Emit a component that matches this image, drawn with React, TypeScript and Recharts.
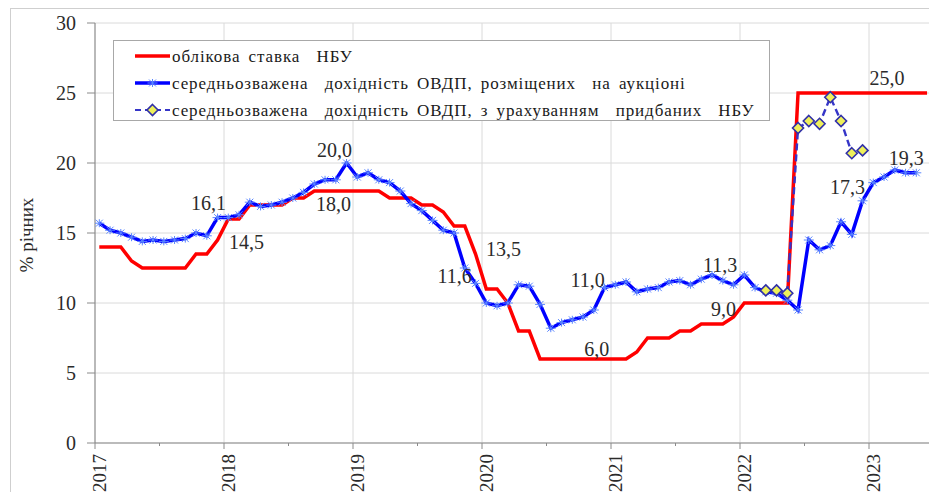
import React from 'react';
import { ComposedChart, Line, XAxis, YAxis, CartesianGrid, LabelList, Legend } from 'recharts';

// ---------- data ----------
const yearLabels = ['2017', '2018', '2019', '2020', '2021', '2022', '2023'];
const yTicks = [0, 5, 10, 15, 20, 25, 30];

// NBU policy rate, monthly from Jan 2017
const policyRate = [
  14, 14, 14, 13, 12.5, 12.5, 12.5, 12.5, 12.5, 13.5, 13.5, 14.5,
  16, 16, 17, 17, 17, 17, 17.5, 17.5, 18, 18, 18, 18,
  18, 18, 18, 17.5, 17.5, 17.5, 17, 17, 16.5, 15.5, 15.5, 13.5,
  11, 11, 10, 8, 8, 6, 6, 6, 6, 6, 6, 6,
  6, 6, 6.5, 7.5, 7.5, 7.5, 8, 8, 8.5, 8.5, 8.5, 9,
  10, 10, 10, 10, 10, 25, 25, 25, 25, 25, 25, 25,
  25, 25, 25, 25, 25, 25,
];

// weighted average yield of bonds placed at auctions, monthly from Jan 2017
const auctionYield = [
  15.7, 15.2, 15.0, 14.7, 14.4, 14.5, 14.4, 14.5, 14.6, 15.0, 14.8, 16.1,
  16.1, 16.3, 17.2, 16.9, 17.0, 17.2, 17.5, 17.9, 18.5, 18.8, 18.8, 20.0,
  19.0, 19.3, 18.8, 18.6, 18.0, 17.1, 16.6, 15.9, 15.2, 15.0, 12.5, 11.4,
  10.0, 9.8, 10.0, 11.3, 11.2, 9.9, 8.2, 8.6, 8.8, 9.0, 9.5, 11.1,
  11.3, 11.5, 10.8, 11.0, 11.1, 11.5, 11.6, 11.3, 11.7, 12.0, 11.6, 11.3,
  12.0, 11.1, 10.8, 10.7, 10.2, 9.5, 14.5, 13.8, 14.1, 15.8, 14.9, 17.3,
  18.6, 19.0, 19.5, 19.3, 19.3,
];

// weighted average yield including bonds bought by NBU (from Mar 2022)
const withNbuStartMonth = 62;
const yieldWithNbu = [10.9, 10.9, 10.7, 22.5, 23.0, 22.8, 24.7, 23.0, 20.7, 20.9];

const rateLabels: [number, string][] = [[11, '14,5'], [23, '18,0'], [35, '13,5'], [46, '6,0'], [59, '9,0'], [73, '25,0']];
const auctionLabels: [number, string][] = [[11, '16,1'], [23, '20,0'], [35, '11,6'], [47, '11,0'], [57, '11,3'], [71, '17,3'], [76, '19,3']];

const legendNames = [
  'облікова ставка  НБУ',
  'середньозважена  дохідність ОВДП, розміщених  на аукціоні',
  'середньозважена  дохідність ОВДП, з урахуванням  придбаних  НБУ',
];
const yAxisTitle = '% річних';

// ---------- styling ----------
const SERIF = 'Liberation Serif';
const RED = '#ff0000';
const BLUE = '#0000ff';
const DASH = '#3535c8';
const GRID = '#dadada';
const AXIS = '#8a8a8a';
const TEXT = '#2b2b2b';

const rateLabelOffsets: Record<number, [number, number]> = {
  11: [29, 2], 23: [-13, 13], 35: [28, -5], 46: [3, -10], 59: [-10, -8], 73: [3, -15],
};
const auctionLabelOffsets: Record<number, [number, number]> = {
  11: [-9, -15], 23: [-12, -13], 35: [-21, -7], 47: [-17, -8], 57: [8, -10], 71: [-15, -14], 76: [-10, -15],
};

const MID_MONTH = 0.4;
const totalMonths = policyRate.length;
const rateLabelMap = new Map(rateLabels);
const auctionLabelMap = new Map(auctionLabels);

const data = Array.from({ length: totalMonths }, (_, i) => {
  const w = i - withNbuStartMonth;
  return {
    m: i + MID_MONTH,
    idx: i,
    rate: policyRate[i],
    auction: i < auctionYield.length ? auctionYield[i] : null,
    withNbu: w >= 0 && w < yieldWithNbu.length ? yieldWithNbu[w] : null,
    rateLabel: rateLabelMap.get(i) ?? null,
    auctionLabel: auctionLabelMap.get(i) ?? null,
  };
});

const xTicks: number[] = [];
for (let t = 0; t <= yearLabels.length * 12 - 6; t += 6) xTicks.push(t);
const yearGrid = yearLabels.slice(1).map((_, i) => (i + 1) * 12);

const serifStyle: React.CSSProperties = { fontFamily: SERIF };

// ---------- shapes ----------
const StarDot = (p: any) => {
  const { cx, cy, index } = p;
  if (cx == null || cy == null || p.value == null) return <g key={`s${index}`} />;
  return (
    <g key={`s${index}`} stroke="#5a86ff" strokeWidth={1}>
      <line x1={cx - 5} y1={cy} x2={cx + 5} y2={cy} />
      <line x1={cx - 3.5} y1={cy - 3.5} x2={cx + 3.5} y2={cy + 3.5} />
      <line x1={cx - 3.5} y1={cy + 3.5} x2={cx + 3.5} y2={cy - 3.5} />
      <line x1={cx} y1={cy - 4} x2={cx} y2={cy + 4} />
    </g>
  );
};

const DiamondDot = (p: any) => {
  const { cx, cy, index } = p;
  if (cx == null || cy == null || p.value == null) return <g key={`d${index}`} />;
  const r = 5.5;
  return (
    <polygon
      key={`d${index}`}
      points={`${cx},${cy - r} ${cx + r},${cy} ${cx},${cy + r} ${cx - r},${cy}`}
      fill="#eef05a"
      stroke="#3030a8"
      strokeWidth={1.6}
    />
  );
};

const makeLabel = (offsets: Record<number, [number, number]>) => (p: any) => {
  const { x, y, value, index } = p;
  if (!value || x == null || y == null) return null;
  const off = offsets[data[index]?.idx ?? index] || [0, -12];
  return (
    <text
      x={x + off[0]}
      y={y + off[1]}
      textAnchor="middle"
      dominantBaseline="central"
      style={{ ...serifStyle, fontSize: 20 }}
      fill={TEXT}
    >
      {value}
    </text>
  );
};

const XTick = (p: any) => {
  const { x, y, payload } = p;
  const v = payload.value;
  if (v % 12 !== 0) {
    return <line x1={x} x2={x} y1={y} y2={y + 3} stroke={AXIS} strokeWidth={1} />;
  }
  const label = yearLabels[v / 12];
  const px = x + 11;
  const py = y + 11;
  return (
    <g>
      <line x1={x} x2={x} y1={y} y2={y + 6} stroke={AXIS} strokeWidth={1} />
      <text
        x={px}
        y={py}
        transform={`rotate(-90, ${px}, ${py})`}
        textAnchor="end"
        style={{ ...serifStyle, fontSize: 19 }}
        fill={TEXT}
      >
        {label}
      </text>
    </g>
  );
};

const YTick = (p: any) => {
  const { x, y, payload } = p;
  return (
    <text x={x} y={y} textAnchor="end" dominantBaseline="central" style={{ ...serifStyle, fontSize: 20 }} fill={TEXT}>
      {payload.value}
    </text>
  );
};

const YTitle = (p: any) => {
  const vb = p.viewBox || {};
  const cx = (vb.x ?? 10) + 16;
  const cy = (vb.y ?? 23) + (vb.height ?? 420) / 2 + 2;
  return (
    <text
      x={cx}
      y={cy}
      transform={`rotate(-90, ${cx}, ${cy})`}
      textAnchor="middle"
      dominantBaseline="central"
      style={{ ...serifStyle, fontSize: 19 }}
      fill={TEXT}
    >
      {yAxisTitle}
    </text>
  );
};

const LegendBox = () => {
  const rows = [15, 42, 69];
  const textStyle: React.CSSProperties = { ...serifStyle, fontSize: 17, whiteSpace: 'pre', letterSpacing: '0.9px', wordSpacing: '3px' };
  return (
    <div style={{ width: 657, height: 81, border: '1px solid #a8a8a8', background: '#fff', boxSizing: 'border-box' }}>
      <svg width={655} height={79} style={{ display: 'block' }}>
        <line x1={21} x2={56} y1={rows[0]} y2={rows[0]} stroke={RED} strokeWidth={3.5} />
        <line x1={21} x2={56} y1={rows[1]} y2={rows[1]} stroke={BLUE} strokeWidth={3.5} />
        <StarDot cx={38.5} cy={rows[1]} value={1} index={0} />
        <line x1={21} x2={56} y1={rows[2]} y2={rows[2]} stroke={DASH} strokeWidth={2.2} strokeDasharray="6 4" />
        <DiamondDot cx={38.5} cy={rows[2]} value={1} index={0} />
        {legendNames.map((n, i) => (
          <text key={n} x={58} y={rows[i]} dominantBaseline="central" fill="#1a1a1a" style={textStyle}>
            {n}
          </text>
        ))}
      </svg>
    </div>
  );
};

export default function App() {
  React.useEffect(() => {
    document.body.style.overflow = 'hidden';
  }, []);
  return (
    <div style={{ position: 'absolute', left: 0, top: 0, width: 929, height: 492, overflow: 'hidden', background: '#fff', fontFamily: SERIF }}>
      <div
        style={{
          position: 'absolute', left: 10, top: 8, width: 1200, height: 1200,
          borderLeft: '1px solid #cfcfcf', borderTop: '1px solid #cfcfcf',
        }}
      />
      <div style={{ position: 'absolute', left: 0, top: 0 }}>
        <ComposedChart
          width={940}
          height={520}
          data={data}
          margin={{ top: 23, right: 6.5, bottom: 0, left: 10 }}
        >
          <CartesianGrid stroke={GRID} vertical={true} horizontal={true} verticalValues={yearGrid} horizontalValues={yTicks} />
          <XAxis
            type="number"
            dataKey="m"
            domain={[0, 78]}
            ticks={xTicks}
            interval={0}
            height={77}
            tickSize={0}
            tickMargin={0}
            tickLine={false}
            tick={<XTick />}
            axisLine={{ stroke: AXIS, strokeWidth: 1.2 }}
            allowDataOverflow
          />
          <YAxis
            type="number"
            domain={[0, 30]}
            ticks={yTicks}
            interval={0}
            width={85}
            tickSize={8}
            tickMargin={11}
            tickLine={{ stroke: AXIS }}
            axisLine={{ stroke: AXIS, strokeWidth: 1.2 }}
            tick={<YTick />}
            label={<YTitle />}
          />
          <Legend
            layout="vertical"
            align="center"
            verticalAlign="middle"
            wrapperStyle={{ left: 113, top: 40, width: 657, height: 81 }}
            content={() => <LegendBox />}
          />
          <Line type="linear" dataKey="rate" stroke={RED} strokeWidth={3.5} dot={false} activeDot={false} isAnimationActive={false}>
            <LabelList dataKey="rateLabel" content={makeLabel(rateLabelOffsets)} />
          </Line>
          <Line type="linear" dataKey="auction" stroke={BLUE} strokeWidth={3.5} dot={StarDot} activeDot={false} isAnimationActive={false}>
            <LabelList dataKey="auctionLabel" content={makeLabel(auctionLabelOffsets)} />
          </Line>
          <Line
            type="linear"
            dataKey="withNbu"
            stroke={DASH}
            strokeWidth={2.4}
            strokeDasharray="7 4"
            dot={DiamondDot}
            activeDot={false}
            isAnimationActive={false}
          />
        </ComposedChart>
      </div>
    </div>
  );
}
